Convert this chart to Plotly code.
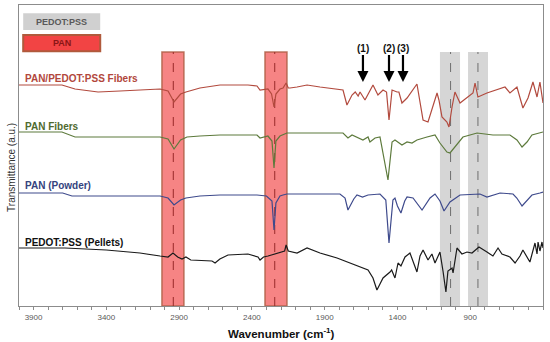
import plotly.graph_objects as go

# ---- data (wavenumber in cm-1, transmittance in arbitrary offset units) ----
fib_wn = [4000, 3705, 3615, 3457, 3306, 3169, 3031, 2976, 2935, 2890, 2853, 2757, 2619, 2427, 2365, 2344,
          2290, 2265, 2248, 2235, 2207, 2186, 2165, 2150, 2138, 2090, 2021, 1932, 1863, 1774, 1747, 1712,
          1690, 1670, 1657, 1623, 1568, 1534, 1499, 1475, 1458, 1437, 1403, 1390, 1369, 1334, 1266, 1224,
          1190, 1128, 1115, 1094, 1060, 1046, 1025, 1005, 970, 922, 881, 867, 847, 785, 716, 661, 627, 579,
          538, 503, 469, 441, 421, 400]
fib_t = [221, 221, 217, 214, 215, 216, 217, 215, 204, 212, 214, 218, 221, 221, 220, 216,
         217, 212, 199, 212, 217, 218, 223, 218, 218, 219, 221, 219, 218, 216, 201, 211,
         214, 210, 214, 206, 221, 211, 216, 214, 186, 216, 214, 214, 203, 208, 222, 186,
         184, 213, 206, 189, 184, 179, 199, 214, 203, 208, 213, 223, 209, 213, 216, 219, 213, 219,
         198, 208, 224, 209, 224, 203]

panf_wn = [4000, 3705, 3615, 3169, 3031, 2976, 2935, 2890, 2846, 2757, 2619, 2365, 2344, 2290, 2262, 2248,
           2235, 2207, 2186, 2159, 1863, 1774, 1740, 1712, 1637, 1602, 1589, 1554, 1520, 1465, 1437, 1417,
           1369, 1334, 1300, 1266, 1197, 1142, 1108, 1060, 1039, 1005, 950, 853, 744, 627, 579, 544, 510,
           476, 421, 400]
panf_t = [174, 174, 169, 169, 169, 167, 157, 166, 169, 170, 171, 171, 168, 170, 165, 138,
          165, 170, 171, 173, 173, 173, 168, 171, 166, 169, 164, 168, 169, 126, 164, 166,
          161, 164, 163, 166, 169, 171, 163, 154, 153, 159, 169, 173, 171, 171, 166, 159, 164,
          171, 173, 174]

panp_wn = [4000, 3700, 3636, 3169, 3031, 2976, 2935, 2890, 2853, 2757, 2619, 2365, 2300, 2262, 2248, 2235,
           2207, 2186, 2159, 1863, 1795, 1760, 1740, 1700, 1678, 1640, 1602, 1520, 1480, 1458, 1440, 1431,
           1417, 1400, 1376, 1350, 1334, 1293, 1231, 1176, 1142, 1108, 1080, 1039, 970, 833, 785, 695,
           606, 580, 544, 510, 476, 421, 400]
panp_t = [113, 113, 110, 110, 110, 108, 101, 106, 108, 110, 111, 111, 110, 105, 76, 103,
          110, 111, 112, 112, 112, 108, 96, 107, 111, 109, 111, 112, 106, 63, 98, 106,
          108, 100, 93, 105, 109, 108, 96, 108, 112, 105, 95, 104, 111, 112, 109, 113,
          112, 108, 100, 106, 111, 113, 114]

ped_wn = [4000, 3684, 3400, 3169, 3031, 2976, 2942, 2910, 2880, 2853, 2820, 2674, 2653, 2620, 2564, 2427,
          2358, 2344, 2320, 2289, 2175, 2165, 2150, 2090, 2021, 1990, 1932, 1815, 1747, 1657, 1602, 1568,
          1541, 1520, 1499, 1451, 1440, 1417, 1396, 1376, 1348, 1314, 1266, 1245, 1224, 1190, 1163, 1142,
          1108, 1087, 1067, 1053, 1025, 1018, 1010, 991, 957, 922, 888, 840, 785, 744, 709, 682, 627,
          592, 558, 538, 490, 455, 441, 434, 421, 407, 400]
ped_t = [58, 58, 56, 53, 50, 49, 53, 49, 47, 49, 46, 45, 43, 47, 51, 52,
         49, 46, 49, 50, 55, 61, 55, 53, 58, 56, 53, 48, 44, 39, 36, 28,
         16, 22, 28, 34, 36, 28, 43, 40, 49, 53, 34, 50, 56, 46, 52, 43,
         54, 35, 14, 35, 38, 33, 40, 58, 52, 54, 53, 59, 54, 50, 58, 52, 49,
         43, 50, 56, 44, 63, 52, 64, 55, 64, 58]

series_names = ["PAN/PEDOT:PSS Fibers", "PAN Fibers", "PAN (Powder)", "PEDOT:PSS (Pellets)"]
series_colors = ["#b24a3e", "#5d7a3c", "#3e4a8c", "#1a1a1a"]
label_colors = ["#b2473c", "#4f6a2e", "#34437e", "#111111"]
label_y = [0.757, 0.598, 0.399, 0.212]

pan_bands = [(3018, 2867, 2940), (2310, 2159, 2243)]   # (start, end, peak)
pedot_bands = [(1108, 970, 1035), (915, 778, 847)]
band_top = 254

arrow_labels = ["(1)", "(2)", "(3)"]
arrow_wn = [1637, 1458, 1362]

x_ticks = [3900, 3400, 2900, 2400, 1900, 1400, 900, 400]

fig = go.Figure()

shapes = []
for s, e, p in pan_bands:
    shapes.append(dict(type="rect", xref="x", yref="y", x0=s, x1=e, y0=0, y1=band_top,
                       fillcolor="rgba(242,80,80,0.7)", line=dict(color="rgba(175,95,70,0.85)", width=1.5),
                       layer="below"))
    shapes.append(dict(type="line", xref="x", yref="y", x0=p, x1=p, y0=0, y1=band_top,
                       line=dict(color="#9a2a2a", width=1, dash="dash"), layer="below"))
for s, e, p in pedot_bands:
    shapes.append(dict(type="rect", xref="x", yref="y", x0=s, x1=e, y0=0, y1=band_top,
                       fillcolor="#d6d6d6", line=dict(width=0), layer="below"))
    shapes.append(dict(type="line", xref="x", yref="y", x0=p, x1=p, y0=0, y1=band_top,
                       line=dict(color="#6e6e6e", width=1, dash="dash"), layer="below"))
# key boxes
shapes.append(dict(type="rect", xref="paper", yref="paper", x0=0.008, x1=0.155, y0=0.917, y1=0.973,
                   fillcolor="#d0d0d0", line=dict(width=0)))
shapes.append(dict(type="rect", xref="paper", yref="paper", x0=0.008, x1=0.155, y0=0.846, y1=0.900,
                   fillcolor="#f24444", line=dict(color="#b05a3c", width=2)))

for wn, t, name, col in [(fib_wn, fib_t, series_names[0], series_colors[0]),
                         (panf_wn, panf_t, series_names[1], series_colors[1]),
                         (panp_wn, panp_t, series_names[2], series_colors[2]),
                         (ped_wn, ped_t, series_names[3], series_colors[3])]:
    fig.add_trace(go.Scatter(x=wn, y=t, mode="lines", name=name,
                             line=dict(color=col, width=1.2), showlegend=False))

annotations = []
for name, col, yy in zip(series_names, label_colors, label_y):
    annotations.append(dict(xref="paper", yref="paper", x=0.008, y=yy, text="<b>%s</b>" % name,
                            showarrow=False, xanchor="left", yanchor="middle",
                            font=dict(size=10, color=col, family="Liberation Sans")))
annotations.append(dict(xref="paper", yref="paper", x=0.0815, y=0.945, text="<b>PEDOT:PSS</b>",
                        showarrow=False, xanchor="center", yanchor="middle",
                        font=dict(size=9, color="#595959", family="Liberation Sans")))
annotations.append(dict(xref="paper", yref="paper", x=0.0815, y=0.873, text="<b>PAN</b>",
                        showarrow=False, xanchor="center", yanchor="middle",
                        font=dict(size=9, color="#8a1515", family="Liberation Sans")))
for lab, wn in zip(arrow_labels, arrow_wn):
    annotations.append(dict(xref="x", yref="y", x=wn, y=224, axref="x", ayref="y", ax=wn, ay=258,
                            text="<b>%s</b>" % lab, showarrow=True, arrowhead=2, arrowsize=1,
                            arrowwidth=2.2, arrowcolor="#000000",
                            font=dict(size=10, color="#111111", family="Liberation Sans")))
annotations.append(dict(xref="paper", yref="paper", x=-0.0134, y=0.462, text="Transmittance (a.u.)",
                        textangle=-90, showarrow=False, xanchor="center", yanchor="middle",
                        font=dict(size=10, color="#333333", family="Liberation Sans")))
annotations.append(dict(xref="paper", yref="paper", x=0.5, y=-0.09,
                        text="<b>Wavenumber (cm<sup>-1</sup>)</b>",
                        showarrow=False, xanchor="center", yanchor="middle",
                        font=dict(size=11.5, color="#111111", family="Liberation Sans")))

fig.update_layout(
    width=550, height=342,
    margin=dict(l=19, r=7, t=5, b=36),
    paper_bgcolor="white", plot_bgcolor="white",
    shapes=shapes, annotations=annotations,
    xaxis=dict(range=[4000, 400], tickvals=x_ticks, ticktext=[str(v) for v in x_ticks],
               automargin=False,
               showgrid=False, zeroline=False, showline=True, mirror=True, linecolor="#8c8c8c",
               linewidth=1, ticks="outside", ticklen=3, tickcolor="#8c8c8c",
               minor=dict(dtick=100, ticks="outside", ticklen=3, tickcolor="#8c8c8c"),
               tickfont=dict(size=8, color="#595959", family="Liberation Sans")),
    yaxis=dict(range=[0, 301], showticklabels=False, showgrid=False, zeroline=False,
               automargin=False,
               showline=True, mirror=True, linecolor="#8c8c8c", linewidth=1, ticks=""),
)

fig.write_html("out.html", config={"displayModeBar": False},
               post_script="document.body.style.margin='0px';")
